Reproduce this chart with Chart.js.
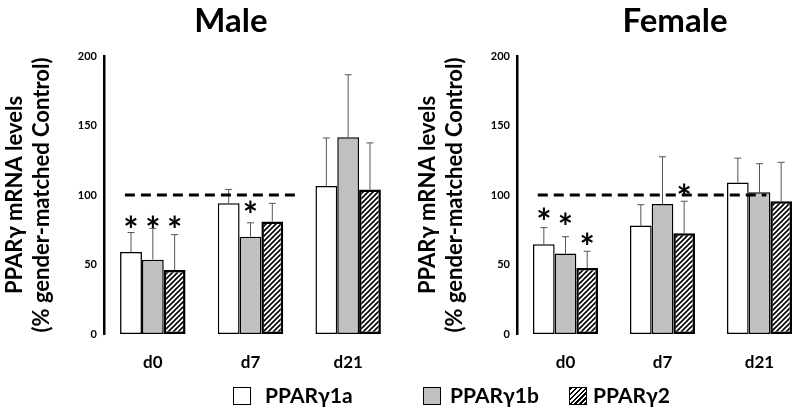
<!DOCTYPE html>
<html lang="en">
<head>
    <meta charset="UTF-8">
    <title>PPARγ mRNA levels</title>
    <script src="https://cdn.jsdelivr.net/npm/chart.js"></script>
    <style>
        body { margin: 0; width: 800px; height: 417px; overflow: hidden; background: #fff; position: relative; font-family: Lato, sans-serif; }
        .panel { position: absolute; top: 0; width: 400px; height: 417px; }
        .title { position: absolute; top: 0; font-weight: bold; font-size: 33px; line-height: 38px; text-align: center; width: 200px; }
        .legend { position: absolute; top: 384px; font-weight: bold; font-size: 21px; line-height: 22px; }
        .box { position: absolute; top: 387px; width: 16px; height: 16px; border: 1.5px solid #000; }
    </style>
</head>
<body>
    <div class="panel" style="left:0"><canvas id="maleChart" width="400" height="417"></canvas></div>
    <div class="panel" style="left:413px"><canvas id="femaleChart" width="400" height="417"></canvas></div>
    <div class="title" style="left:131px">Male</div>
    <div class="title" style="left:575px">Female</div>

    <div class="box" style="left:233px; background:#fff"></div>
    <div class="legend" style="left:265px">PPARγ1a</div>
    <div class="box" style="left:423px; background:#c0c0c0"></div>
    <div class="legend" style="left:450px">PPARγ1b</div>
    <div class="box" style="left:569px; background:repeating-linear-gradient(-45deg, #000 0 1.5px, #fff 1.5px 3.5px)"></div>
    <div class="legend" style="left:593px">PPARγ2</div>

    <script>
        const days = ['d0', 'd7', 'd21'];
        const seriesNames = ['PPARγ1a', 'PPARγ1b', 'PPARγ2'];
        const yTicks = [0, 50, 100, 150, 200];

        // male: means, top of error bar, asterisk height (null = none)
        const male1a = [59, 94, 106.5];
        const male1b = [53.5, 70, 141.5];
        const male2 = [46, 81, 104];
        const male1aErr = [73, 104, 141];
        const male1bErr = [76, 80, 186.5];
        const male2Err = [71.5, 94, 137.5];
        const male1aStar = [81, null, null];
        const male1bStar = [81, 92, null];
        const male2Star = [81, null, null];
        const maleRefLine = [-0.5, 1.58];

        // female
        const female1a = [64.5, 78, 109];
        const female1b = [58, 93.5, 102];
        const female2 = [47.5, 72.5, 95.5];
        const female1aErr = [76.5, 93, 126.5];
        const female1bErr = [70, 127.5, 122.5];
        const female2Err = [59.5, 95.5, 123.5];
        const female1aStar = [86.5, null, null];
        const female1bStar = [83, null, null];
        const female2Star = [69, 104, null];
        const femaleRefLine = [-0.5, 2.25];

        const FONT = 'Lato, "Open Sans", sans-serif';

        function hatch() {
            const c = document.createElement('canvas');
            c.width = 5; c.height = 5;
            const g = c.getContext('2d');
            g.fillStyle = '#fff';
            g.fillRect(0, 0, 5, 5);
            g.strokeStyle = '#000';
            g.lineWidth = 1.6;
            g.beginPath();
            g.moveTo(-1, 6); g.lineTo(6, -1);
            g.moveTo(-1, 1); g.lineTo(1, -1);
            g.moveTo(4, 6); g.lineTo(6, 4);
            g.stroke();
            return g.createPattern(c, 'repeat');
        }

        // whiskers + dashed control line + asterisks
        const extras = {
            id: 'extras',
            beforeDatasetsDraw(chart) {
                const ctx = chart.ctx;
                const y = chart.scales.y;
                ctx.save();
                ctx.strokeStyle = '#555';
                ctx.lineWidth = 1;
                chart.data.datasets.forEach((ds, i) => {
                    if (!ds.err) return;
                    chart.getDatasetMeta(i).data.forEach((bar, j) => {
                        const top = y.getPixelForValue(ds.err[j]);
                        ctx.beginPath();
                        ctx.moveTo(bar.x, bar.y);
                        ctx.lineTo(bar.x, top);
                        ctx.moveTo(bar.x - 3.5, top);
                        ctx.lineTo(bar.x + 3.5, top);
                        ctx.stroke();
                    });
                });
                ctx.restore();
            },
            afterDatasetsDraw(chart, args, opts) {
                const ctx = chart.ctx;
                const x2 = chart.scales.x2;
                const y = chart.scales.y;
                ctx.save();
                ctx.strokeStyle = '#000';
                ctx.lineWidth = 3;
                ctx.setLineDash([10, 6]);
                ctx.beginPath();
                ctx.moveTo(x2.getPixelForValue(opts.refLine[0]), y.getPixelForValue(100));
                ctx.lineTo(x2.getPixelForValue(opts.refLine[1]), y.getPixelForValue(100));
                ctx.stroke();
                ctx.setLineDash([]);

                ctx.fillStyle = '#000';
                ctx.font = 'bold 36px ' + FONT;
                ctx.textAlign = 'center';
                ctx.textBaseline = 'middle';
                chart.data.datasets.forEach((ds, i) => {
                    if (!ds.stars) return;
                    chart.getDatasetMeta(i).data.forEach((bar, j) => {
                        if (ds.stars[j] == null) return;
                        ctx.fillText('*', bar.x, y.getPixelForValue(ds.stars[j]) + 10);
                    });
                });
                ctx.restore();
            }
        };

        function makeChart(id, vals, errs, stars, refLine, rightPad) {
            const fills = ['#ffffff', '#c0c0c0', hatch()];
            const widths = [1.5, 1.5, 2.5];
            const datasets = vals.map((v, i) => ({
                label: seriesNames[i],
                data: v,
                err: errs[i],
                stars: stars[i],
                backgroundColor: fills[i],
                borderColor: '#000',
                borderWidth: widths[i],
                borderSkipped: false
            }));

            const chart = new Chart(document.getElementById(id), {
                type: 'bar',
                data: { labels: days, datasets: datasets },
                options: {
                    responsive: false,
                    animation: false,
                    categoryPercentage: 0.67,
                    barPercentage: 1.0,
                    layout: { padding: { top: 56, right: rightPad, left: 0, bottom: 0 } },
                    plugins: {
                        legend: { display: false },
                        tooltip: { enabled: false },
                        extras: { refLine: refLine }
                    },
                    scales: {
                        x: {
                            grid: { display: false, drawTicks: false },
                            border: { display: false },
                            ticks: { color: '#000', font: { family: FONT, size: 17, weight: 'bold' }, padding: 18 },
                            afterFit(scale) { scale.height = 83; }
                        },
                        x2: {
                            type: 'linear',
                            display: false,
                            min: -0.5,
                            max: 2.5
                        },
                        y: {
                            min: 0,
                            max: 200,
                            grid: { display: false, drawTicks: false },
                            border: { display: true, color: '#000', width: 2.5 },
                            afterBuildTicks(scale) { scale.ticks = yTicks.map(v => ({value: v})); },
                            ticks: { color: '#000', font: { family: FONT, size: 11, weight: 'bold' }, padding: 7 },
                            title: {
                                display: true,
                                text: ['PPARγ mRNA levels', '(% gender-matched Control)'],
                                color: '#000',
                                font: { family: FONT, size: 22, weight: 'bold' },
                                padding: { top: 2, bottom: 0 }
                            },
                            afterFit(scale) { scale.width = 104; }
                        }
                    }
                },
                plugins: [extras]
            });
            // second pass: the first layout gave half-width bars
            chart.update('none');
            return chart;
        }

        makeChart('maleChart',
            [male1a, male1b, male2],
            [male1aErr, male1bErr, male2Err],
            [male1aStar, male1bStar, male2Star],
            maleRefLine, 3);
        makeChart('femaleChart',
            [female1a, female1b, female2],
            [female1aErr, female1bErr, female2Err],
            [female1aStar, female1bStar, female2Star],
            femaleRefLine, 5);
    </script>
</body>
</html>
